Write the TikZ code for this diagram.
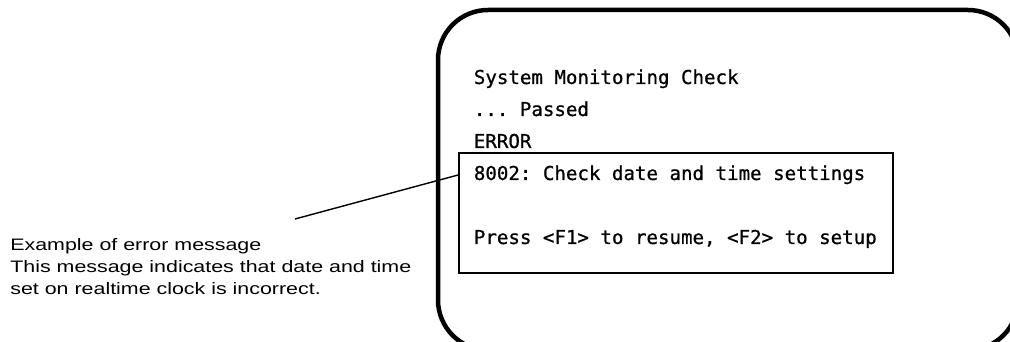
\documentclass[tikz,border=0pt]{standalone}
\usepackage{fontspec}
\setmainfont{Liberation Sans}
\setmonofont[FakeBold=0.8]{DejaVu Sans Mono}
\usetikzlibrary{positioning,calc}

\begin{document}
\begin{tikzpicture}[
  screen/.style={rectangle, rounded corners=1.25cm, draw=black, line width=3.2pt,
                 minimum width=14.5cm, minimum height=8.5cm, inner sep=0pt},
  msgbox/.style={rectangle, draw=black, line width=1.4pt,
                 minimum width=10.85cm, minimum height=3.0cm, inner sep=0pt},
  scr/.style={font=\ttfamily\fontsize{13.6pt}{16pt}\selectfont, inner sep=0pt, anchor=base west},
  note/.style={font=\fontsize{11.8pt}{16pt}\selectfont, align=left, inner sep=0pt,
               anchor=base west, xscale=1.29, transform shape},
  lead/.style={line width=1pt}
]
\useasboundingbox (0,0) rectangle (25.25,8.55);

% Monitor screen
\node[screen] (frame) at (18.2,4.05) {};
\node[msgbox] (msg) at (16.9,3.225) {};

% Screen lines
\node[scr] (l1) at (11.84,6.45) {System Monitoring Check};
\node[scr] (l2) at (11.84,5.65) {... Passed};
\node[scr] (l3) at (11.84,4.85) {ERROR};
\node[scr] (l4) at (11.84,4.05) {8002: Check date and time settings};
\node[scr] (l5) at (11.84,2.45) {Press <F1> to resume, <F2> to setup};

% Explanation
\node[note] (expl) at (0.25,1.175)
  {Example of error message\\This message indicates that date and time\\set on realtime clock is incorrect.};

% Leader line
\coordinate (start) at (7.375,3.075);
\coordinate (tip) at ([yshift=-0.575cm]msg.north west);
\draw[lead] (start) -- (tip);
\end{tikzpicture}
\end{document}
